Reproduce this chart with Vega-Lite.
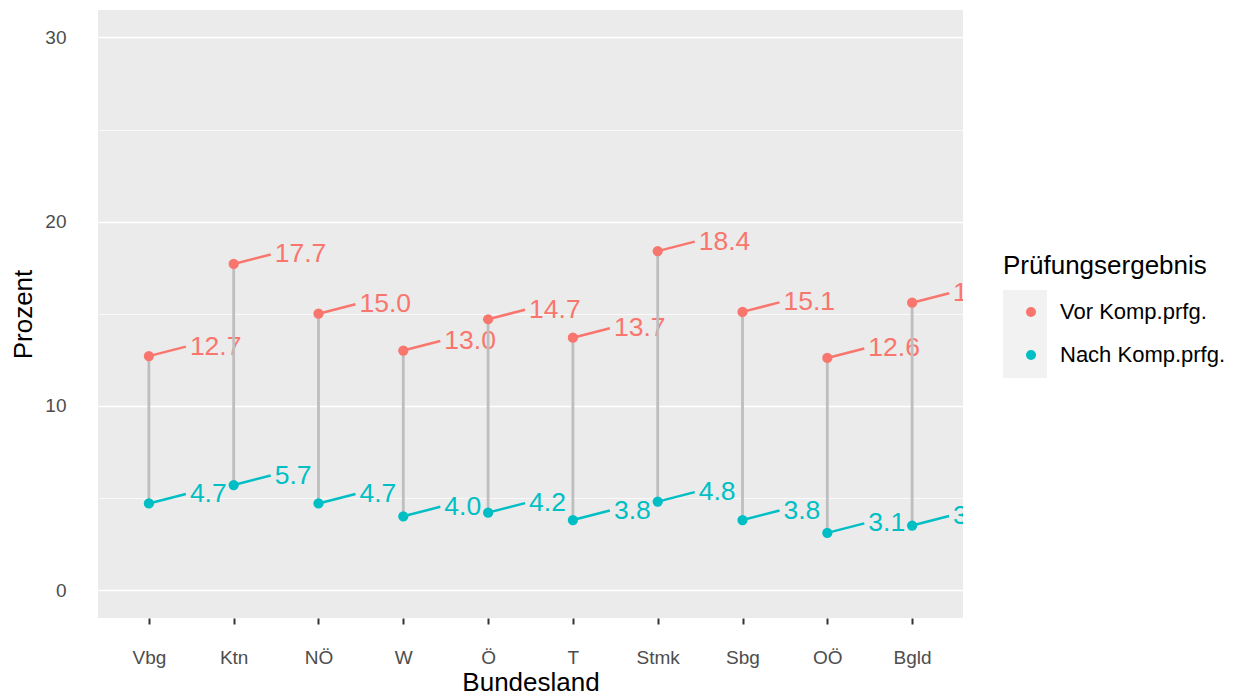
{
  "$schema": "https://vega.github.io/schema/vega-lite/v6.json",
  "width": 865,
  "height": 608,
  "autosize": "none",
  "padding": {"left": 98, "top": 10, "right": 272, "bottom": 79},
  "background": "white",
  "config": {
    "view": {"fill": "#EBEBEB", "stroke": null},
    "font": "Liberation Sans",
    "axis": {"domain": false, "labelColor": "#4D4D4D", "titleColor": "#000000", "titleFontWeight": "normal", "labelFontSize": 19, "titleFontSize": 26, "titleFont": "Liberation Sans", "labelFont": "Liberation Sans"}
  },
  "data": {"values": [
    {"Bundesland": "Vbg", "Ergebnis": "Vor Komp.prfg.", "Prozent": 12.7},
    {"Bundesland": "Vbg", "Ergebnis": "Nach Komp.prfg.", "Prozent": 4.7},
    {"Bundesland": "Ktn", "Ergebnis": "Vor Komp.prfg.", "Prozent": 17.7},
    {"Bundesland": "Ktn", "Ergebnis": "Nach Komp.prfg.", "Prozent": 5.7},
    {"Bundesland": "NÖ", "Ergebnis": "Vor Komp.prfg.", "Prozent": 15.0},
    {"Bundesland": "NÖ", "Ergebnis": "Nach Komp.prfg.", "Prozent": 4.7},
    {"Bundesland": "W", "Ergebnis": "Vor Komp.prfg.", "Prozent": 13.0},
    {"Bundesland": "W", "Ergebnis": "Nach Komp.prfg.", "Prozent": 4.0},
    {"Bundesland": "Ö", "Ergebnis": "Vor Komp.prfg.", "Prozent": 14.7},
    {"Bundesland": "Ö", "Ergebnis": "Nach Komp.prfg.", "Prozent": 4.2},
    {"Bundesland": "T", "Ergebnis": "Vor Komp.prfg.", "Prozent": 13.7},
    {"Bundesland": "T", "Ergebnis": "Nach Komp.prfg.", "Prozent": 3.8},
    {"Bundesland": "Stmk", "Ergebnis": "Vor Komp.prfg.", "Prozent": 18.4},
    {"Bundesland": "Stmk", "Ergebnis": "Nach Komp.prfg.", "Prozent": 4.8},
    {"Bundesland": "Sbg", "Ergebnis": "Vor Komp.prfg.", "Prozent": 15.1},
    {"Bundesland": "Sbg", "Ergebnis": "Nach Komp.prfg.", "Prozent": 3.8},
    {"Bundesland": "OÖ", "Ergebnis": "Vor Komp.prfg.", "Prozent": 12.6},
    {"Bundesland": "OÖ", "Ergebnis": "Nach Komp.prfg.", "Prozent": 3.1},
    {"Bundesland": "Bgld", "Ergebnis": "Vor Komp.prfg.", "Prozent": 15.6},
    {"Bundesland": "Bgld", "Ergebnis": "Nach Komp.prfg.", "Prozent": 3.5}
  ]},
  "encoding": {
    "x": {
      "field": "Bundesland", "type": "nominal",
      "sort": ["Vbg", "Ktn", "NÖ", "W", "Ö", "T", "Stmk", "Sbg", "OÖ", "Bgld"],
      "scale": {"type": "point", "padding": 0.6},
      "axis": {"title": "Bundesland", "labelAngle": 0, "grid": false, "ticks": true, "tickSize": 6, "tickWidth": 2, "tickColor": "#333333", "labelPadding": 24, "titlePadding": 2}
    }
  },
  "layer": [
    {
      "mark": {"type": "rule", "x2Offset": 37, "y2Offset": -9.5, "strokeWidth": 2.5, "clip": true},
      "encoding": {
        "y": {"field": "Prozent", "type": "quantitative"},
        "x2": {"field": "Bundesland"},
        "y2": {"field": "Prozent"},
        "stroke": {"field": "Ergebnis", "type": "nominal", "legend": null, "sort": ["Vor Komp.prfg.", "Nach Komp.prfg."],
          "scale": {"range": ["#F8766D", "#00BFC4"]}}
      }
    },
    {
      "mark": {"type": "text", "dx": 41, "dy": -9.5, "align": "left", "baseline": "middle", "fontSize": 26.5, "clip": true, "font": "Liberation Sans"},
      "encoding": {
        "y": {"field": "Prozent", "type": "quantitative"},
        "text": {"field": "Prozent", "type": "quantitative", "format": ".1f"},
        "fill": {"field": "Ergebnis", "type": "nominal", "legend": null, "sort": ["Vor Komp.prfg.", "Nach Komp.prfg."],
          "scale": {"range": ["#F8766D", "#00BFC4"]}}
      }
    },
    {
      "transform": [{"aggregate": [{"op": "min", "field": "Prozent", "as": "lo"}, {"op": "max", "field": "Prozent", "as": "hi"}], "groupby": ["Bundesland"]}],
      "mark": {"type": "rule", "color": "#BEBEBE", "strokeWidth": 2.8},
      "encoding": {
        "y": {"field": "lo", "type": "quantitative"},
        "y2": {"field": "hi"}
      }
    },
    {
      "transform": [{"calculate": "datum.Ergebnis", "as": "Taste"}],
      "mark": {"type": "point", "filled": true, "opacity": 0, "color": "#F2F2F2"},
      "encoding": {
        "y": {"field": "Prozent", "type": "quantitative"},
        "shape": {"field": "Taste", "type": "nominal",
          "scale": {"domain": ["Nach Komp.prfg.", "Vor Komp.prfg."], "range": ["square", "square"]},
          "legend": {"title": null, "orient": "none", "legendX": 905, "legendY": 280, "zindex": 0, "symbolSize": 1936, "symbolStrokeWidth": 0, "labelExpr": "''", "rowPadding": 0, "padding": 0, "labelFontSize": 1,
            "encode": {"symbols": {"update": {"fill": {"value": "#F2F2F2"}, "opacity": {"value": 1}, "fillOpacity": {"value": 1}, "strokeWidth": {"value": 0}}}}}
        }
      }
    },
    {
      "mark": {"type": "circle", "size": 105, "opacity": 1},
      "encoding": {
        "y": {
          "field": "Prozent", "type": "quantitative",
          "scale": {"domain": [-1.52, 31.49], "nice": false, "zero": false},
          "axis": {"title": "Prozent", "values": [0, 5, 10, 15, 20, 25, 30], "labelExpr": "datum.value % 10 === 0 ? datum.label : ''", "ticks": false, "tickSize": 0, "labelPadding": 32, "grid": true, "gridColor": "#FFFFFF", "gridWidth": {"condition": {"test": "datum.value % 10 === 0", "value": 1.5}, "value": 0.75}, "titlePadding": 8}
        },
        "color": {
          "field": "Ergebnis", "type": "nominal",
          "scale": {"domain": ["Vor Komp.prfg.", "Nach Komp.prfg."], "range": ["#F8766D", "#00BFC4"]},
          "legend": {"title": "Prüfungsergebnis", "orient": "none", "legendX": 905, "legendY": 243, "zindex": 1, "titleFontSize": 26, "titleFontWeight": "normal", "titleColor": "#000000", "titleFont": "Liberation Sans", "labelFont": "Liberation Sans", "labelFontSize": 22, "labelColor": "#000000", "titleLimit": 400, "labelLimit": 400, "symbolType": "circle", "symbolSize": 100, "symbolOpacity": 1, "symbolOffset": 17, "labelOffset": 18, "rowPadding": 21, "titlePadding": 22, "padding": 0}
        }
      }
    }
  ]
}
